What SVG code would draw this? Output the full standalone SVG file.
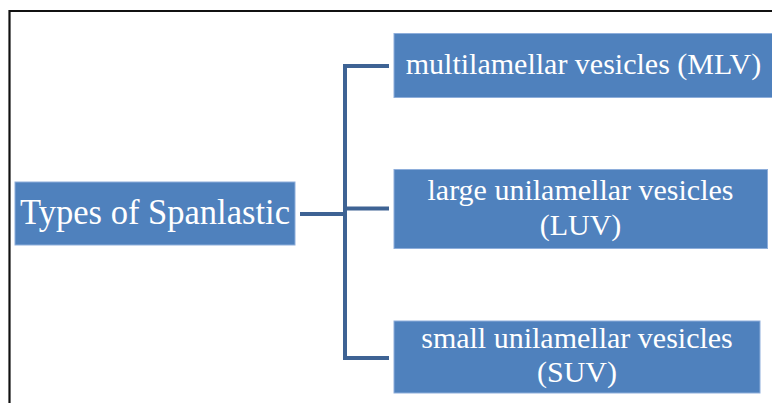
<svg xmlns="http://www.w3.org/2000/svg" width="772" height="403" viewBox="0 0 772 403">
  <style>
    .box { fill: #4f81bd; stroke: #8eaedb; stroke-width: 1; }
    .lbl { fill: #ffffff; font-family: "Liberation Serif", "Times New Roman", serif; font-size: 30px; text-anchor: middle; }
    .big { font-size: 35px; }
    .conn { fill: none; stroke: #3e6394; stroke-width: 4; stroke-linecap: butt; stroke-linejoin: miter; }
  </style>
  <rect x="0" y="0" width="772" height="403" fill="#ffffff"/>
  <path d="M9.5 403 V11 H772" fill="none" stroke="#111111" stroke-width="2.2"/>
  <g id="connectors">
    <path class="conn" d="M300 214 H345"/>
    <path class="conn" d="M389 66 H345 V358 H389"/>
    <path class="conn" d="M345 208.5 H389"/>
  </g>
  <g id="root">
    <rect class="box" x="15" y="182" width="280" height="63"/>
    <text class="lbl big" x="155" y="223.5" textLength="270" lengthAdjust="spacingAndGlyphs">Types of Spanlastic</text>
  </g>
  <g id="mlv">
    <rect class="box" x="394" y="33.5" width="380" height="64"/>
    <text class="lbl" x="583.5" y="73.5">multilamellar vesicles (MLV)</text>
  </g>
  <g id="luv">
    <rect class="box" x="394" y="169.5" width="373.5" height="79"/>
    <text class="lbl" x="580.5" y="200">large unilamellar vesicles</text>
    <text class="lbl" x="580.5" y="235">(LUV)</text>
  </g>
  <g id="suv">
    <rect class="box" x="394" y="321" width="366" height="72"/>
    <text class="lbl" x="577" y="347.5">small unilamellar vesicles</text>
    <text class="lbl" x="577" y="382">(SUV)</text>
  </g>
</svg>
